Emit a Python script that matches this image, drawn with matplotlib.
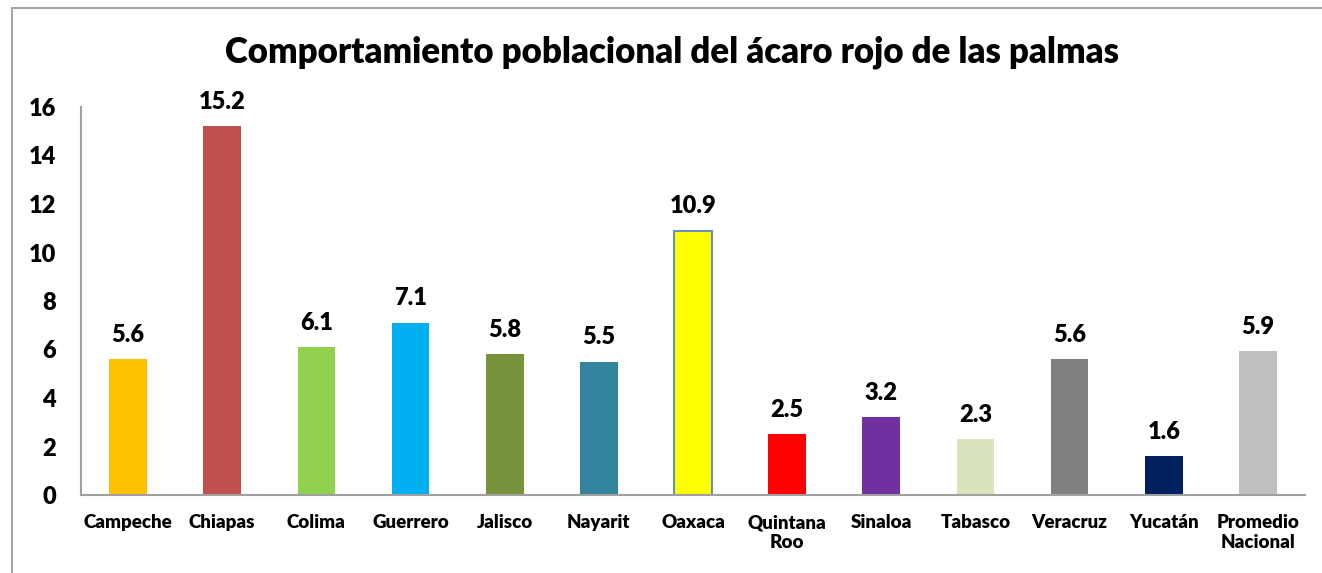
import matplotlib
matplotlib.use("Agg")
import matplotlib.pyplot as plt
from matplotlib.patches import Rectangle

categories = ["Campeche", "Chiapas", "Colima", "Guerrero", "Jalisco", "Nayarit",
              "Oaxaca", "Quintana\nRoo", "Sinaloa", "Tabasco", "Veracruz",
              "Yucatán", "Promedio\nNacional"]
values = [5.6, 15.2, 6.1, 7.1, 5.8, 5.5, 10.9, 2.5, 3.2, 2.3, 5.6, 1.6, 5.94]
colors = ["#FFC000", "#C0504D", "#92D050", "#00B0F0", "#77933C", "#31849B",
          "#FFFF00", "#FF0000", "#7030A0", "#D7E4BD", "#808080", "#002060",
          "#BFBFBF"]
yticks = [0, 2, 4, 6, 8, 10, 12, 14, 16]
title = "Comportamiento poblacional del ácaro rojo de las palmas"

plt.rcParams['font.family'] = ['Lato', 'DejaVu Sans']
WEIGHT = "heavy"

W, H = 1322, 573
fig = plt.figure(figsize=(W / 100, H / 100), dpi=100)

# outer border
fig.patches.append(Rectangle((12 / W, -0.05), 1.2, 1 - 8 / H + 0.05,
                             transform=fig.transFigure, fill=False,
                             edgecolor="#A6A6A6", linewidth=1.5))

left, right, top, bottom = 81, 1305, 107, 495
ax = fig.add_axes([left / W, 1 - bottom / H, (right - left) / W, (bottom - top) / H])

x = range(len(categories))
bars = ax.bar(x, values, width=0.40, color=colors)
bars[6].set_edgecolor("#6C8EBF")
bars[6].set_linewidth(1.5)

for xi, v in zip(x, values):
    ax.text(xi, v + 0.55, f"{v:.1f}", ha="center", va="bottom",
            fontsize=17, fontweight=WEIGHT)

ax.set_xlim(-0.5, len(categories) - 0.5)
ax.set_ylim(0, 16)
ax.set_yticks(yticks)
ax.set_yticklabels([str(t) for t in yticks], fontsize=17, fontweight=WEIGHT)
ax.set_xticks(list(x))
ax.set_xticklabels(categories, fontsize=13.5, fontweight=WEIGHT, va="top",
                   linespacing=1.2)
ax.tick_params(axis="both", length=0)
ax.tick_params(axis="y", pad=18)
ax.tick_params(axis="x", pad=14)
for s in ["top", "right"]:
    ax.spines[s].set_visible(False)
for s in ["left", "bottom"]:
    ax.spines[s].set_color("#A0A0A0")
    ax.spines[s].set_linewidth(1.5)

fig.text(672 / W, 1 - 52 / H, title, ha="center", va="center",
         fontsize=25, fontweight=WEIGHT)

fig.savefig("out.png", dpi=100)
